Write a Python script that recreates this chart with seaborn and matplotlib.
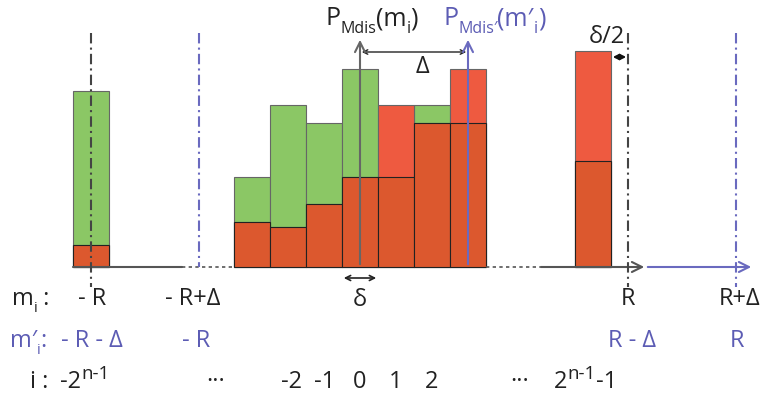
import numpy as np
import matplotlib
matplotlib.use("Agg")
import matplotlib.pyplot as plt
import seaborn as sns

sns.set_theme(style="white")
plt.rcParams['font.family'] = ['Open Sans', 'DejaVu Sans']

# ---- data ----
bins = ["-2^(n-1)", "-2", "-1", "0", "1", "2", "3", "4", "2^(n-1)-1"]
bin_pos = [91, 252, 288, 324, 360, 396, 432, 468, 593]        # schematic positions
p_mdis = [9.8, 5.0, 9.0, 8.0, 11.0, 5.0, 9.0, 8.0, 5.9]        # green, P_Mdis(m_i)
p_mdis_shift = [1.2, 2.5, 2.2, 3.5, 5.0, 9.0, 8.0, 11.0, 12.0]  # red, P_Mdis'(m'_i)
overlap = list(np.minimum(p_mdis, p_mdis_shift))

mi_labels = ["- R", "- R+Δ", "R", "R+Δ"]
mpi_labels = ["- R - Δ", "- R", "R - Δ", "R"]
i_simple = ["···", "-2", "-1", "0", "1", "2", "···"]

GREEN = "#8BC765"
LRED = "#EE5A40"
DRED = "#DC582E"
BLUE = "#5C5CB4"
LBLUE = "#6A6ABF"
GRAY = "#555555"
BLACK = "#222222"

fig = plt.figure(figsize=(7.64, 4.01), dpi=100)
ax = fig.add_axes([0, 0, 1, 1])
S = 18.0  # px per unit

for vals, col, ec in [(p_mdis, GREEN, "#666666"), (p_mdis_shift, LRED, "#666666"), (overlap, DRED, "#222222")]:
    sns.barplot(x=bin_pos, y=vals, native_scale=True, width=1, color=col, saturation=1,
                edgecolor=ec, linewidth=0.8, errorbar=None, ax=ax)

def py(p):
    return (267 - p) / S

ax.set_xlim(0, 764)
ax.set_ylim(py(401), py(0))
ax.axis("off")

# baseline
ax.plot([73, 182], [0, 0], color=GRAY, lw=1.5, zorder=1)
ax.plot([182, 234], [0, 0], color=GRAY, lw=1.2, ls=(0, (2, 2)), zorder=1)
ax.plot([486, 540], [0, 0], color=GRAY, lw=1.2, ls=(0, (2, 2)), zorder=1)
ax.annotate("", xy=(647, 0), xytext=(538, 0),
            arrowprops=dict(arrowstyle="->", color=GRAY, lw=1.5, mutation_scale=18))
ax.annotate("", xy=(754, 0), xytext=(645, 0),
            arrowprops=dict(arrowstyle="->", color=LBLUE, lw=1.5, mutation_scale=18))

# dash-dot reference lines
dd = (0, (5, 2, 1, 2))
ax.plot([91, 91], [py(33), py(287)], color="#444444", lw=1.5, ls=dd, zorder=5)
ax.plot([199, 199], [py(33), py(267)], color=LBLUE, lw=1.5, ls=dd, zorder=5)
ax.plot([628, 628], [py(33), py(287)], color="#444444", lw=1.5, ls=dd, zorder=5)
ax.plot([736, 736], [py(33), py(287)], color=LBLUE, lw=1.5, ls=dd, zorder=5)

# vertical axes with arrows
ax.annotate("", xy=(360, py(37)), xytext=(360, 0),
            arrowprops=dict(arrowstyle="->", color="#666666", lw=1.5, mutation_scale=18), zorder=6)
ax.annotate("", xy=(468, py(37)), xytext=(468, 0),
            arrowprops=dict(arrowstyle="->", color=LBLUE, lw=1.5, mutation_scale=18), zorder=6)

# Delta arrow
ax.annotate("", xy=(469, py(52)), xytext=(359, py(52)),
            arrowprops=dict(arrowstyle="<->", color=BLACK, lw=1.0, mutation_scale=8))
ax.text(422, py(67), "Δ", fontsize=17, ha="center", va="center", color=BLACK)
# delta arrow
ax.annotate("", xy=(379, py(278)), xytext=(341, py(278)),
            arrowprops=dict(arrowstyle="<->", color=BLACK, lw=1.2, mutation_scale=9))
ax.text(360, py(300), "δ", fontsize=17, ha="center", va="center", color=BLACK)
# delta/2 arrow
ax.annotate("", xy=(629, py(57)), xytext=(610, py(57)),
            arrowprops=dict(arrowstyle="<->", color="#111111", lw=1.5, mutation_scale=8))
ax.text(607, py(37), "δ/2", fontsize=17, ha="center", va="center", color=BLACK)

fig.canvas.draw()
renderer = fig.canvas.get_renderer()
inv = ax.transData.inverted()

def chain(x0, base_px, pieces, color):
    """pieces: list of (text, fontsize, dy_px); dy positive = down."""
    x = x0
    for txt, fs, dy in pieces:
        t = ax.text(x, py(base_px + dy), txt, fontsize=fs, ha="left", va="baseline", color=color)
        bb = t.get_window_extent(renderer)
        x = inv.transform((bb.x1, bb.y0))[0]

# titles
chain(325, 25, [("P", 18, 0), ("Mdis", 11.5, 8), ("(m", 18, 0), ("i", 11.5, 8), (")", 18, 0)], BLACK)
chain(443, 25, [("P", 18, 0), ("Mdis′", 11.5, 8), ("(m′", 18, 0), ("i", 11.5, 8), (")", 18, 0)], BLUE)

# row labels
chain(12, 305, [("m", 17, 0), ("i", 10.5, 7), (" :", 17, 0)], BLACK)
for x, t in zip([92, 193, 628, 740], mi_labels):
    ax.text(x, py(305), t, fontsize=17, ha="center", va="baseline", color=BLACK)
chain(10, 347, [("m′", 17, 0), ("i", 10.5, 7), (":", 17, 0)], BLUE)
for x, t in zip([92, 196, 632, 737], mpi_labels):
    ax.text(x, py(347), t, fontsize=17, ha="center", va="baseline", color=BLUE)
ax.text(30, py(388), "i :", fontsize=17, ha="left", va="baseline", color=BLACK)
chain(60, 388, [("-2", 17, 0), ("n-1", 13.5, -9)], BLACK)
for x, t in zip([216, 292, 325, 360, 396, 432, 520], i_simple):
    ax.text(x, py(388), t, fontsize=17, ha="center", va="baseline", color=BLACK)
chain(554, 388, [("2", 17, 0), ("n-1", 13.5, -9), ("-1", 17, 0)], BLACK)

fig.savefig("out.png", dpi=100)
